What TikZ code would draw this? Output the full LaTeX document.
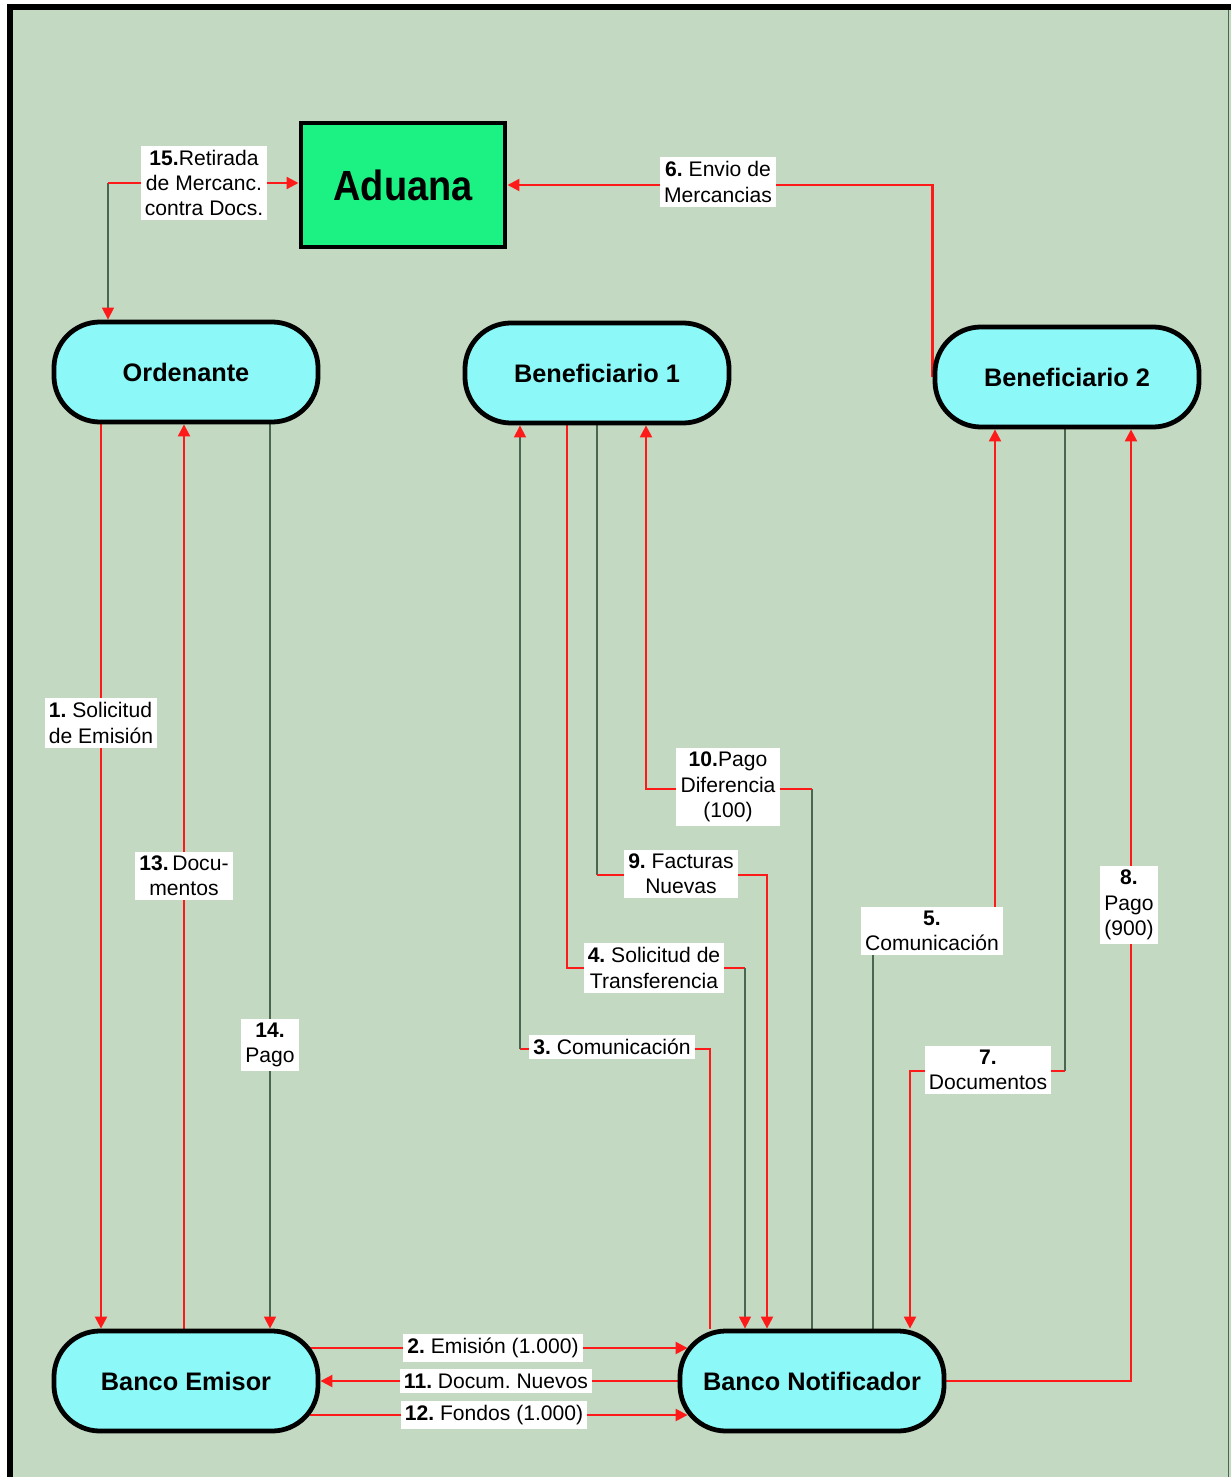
\documentclass[tikz,border=0pt]{standalone}
\usepackage{fontspec}
\setmainfont{Liberation Sans}
\usetikzlibrary{arrows.meta,calc}
\definecolor{FondoVerde}{HTML}{C3D9C1}
\definecolor{CajaCian}{HTML}{8CF8F8}
\definecolor{CajaVerde}{HTML}{1CF283}
\definecolor{LineaRoja}{HTML}{FF1A1A}
\definecolor{LineaOscura}{HTML}{4A6650}
\pgfdeclarelayer{fondo}
\pgfdeclarelayer{lineas}
\pgfsetlayers{fondo,lineas,main}
\frenchspacing
\begin{document}
\begin{tikzpicture}[x=0.025cm,y=-0.025cm,
    parte/.style={draw=black,line width=3.4pt,fill=CajaCian,rounded corners=1.15cm,minimum width=6.6cm,minimum height=2.5cm,font=\fontsize{18}{20}\selectfont\bfseries},
    aduanabox/.style={draw=black,line width=3.5pt,fill=CajaVerde,minimum width=5.1cm,minimum height=3.1cm,font=\fontsize{30}{32}\selectfont\bfseries},
    etiqueta/.style={fill=white,inner sep=3pt,align=center,font=\fontsize{15}{18}\selectfont},
    roja/.style={draw=LineaRoja,line width=1.6pt},
    oscura/.style={draw=LineaOscura,line width=0.9pt},
    punta/.style={-{Triangle[length=0.3cm,width=0.3cm,color=LineaRoja]}}]
                \useasboundingbox (0,0) rectangle (1231,1477);

                \node[aduanabox] (Aduana) at (403,185) {\scalebox{0.9}[1]{Aduana}};
                \node[parte] (Ordenante) at (186,372) {Ordenante};
                \node[parte] (BenefUno) at (597,373) {Beneficiario 1};
                \node[parte] (BenefDos) at (1067,377) {Beneficiario 2};
                \node[parte] (BancoEmisor) at (186,1381) {Banco Emisor};
                \node[parte] (BancoNotif) at (812,1381) {Banco Notificador};

                \node[etiqueta] (Et15) at (204,183) {\textbf{15.}Retirada\\de Mercanc.\\contra Docs.};
                \node[etiqueta] (Et6) at (718,182) {\textbf{6.} Envio de\\Mercancias};
                \node[etiqueta,align=left] (Et1) at (101,723) {\textbf{1.} Solicitud\\de Emisión};
                \node[etiqueta] (Et13) at (184,876) {\textbf{13.}\,Docu-\\mentos};
                \node[etiqueta] (Et14) at (270,1045) {\textbf{14.}\\Pago};
                \node[etiqueta] (Et10) at (728,787) {\textbf{10.}Pago\\Diferencia\\(100)};
                \node[etiqueta] (Et9) at (681,874) {\textbf{9.} Facturas\\Nuevas};
                \node[etiqueta] (Et4) at (654,968) {\textbf{4.} Solicitud de\\Transferencia};
                \node[etiqueta] (Et3) at (612,1047) {\textbf{3.} Comunicación};
                \node[etiqueta] (Et5) at (932,931) {\textbf{5.}\\Comunicación};
                \node[etiqueta] (Et7) at (988,1070) {\textbf{7.}\\Documentos};
                \node[etiqueta] (Et8) at (1129,905) {\textbf{8.}\\Pago\\(900)};
                \node[etiqueta] (Et2) at (493,1348) {\textbf{2.} Emisión (1.000)};
                \node[etiqueta] (Et11) at (496,1381) {\textbf{11.} Docum. Nuevos};
                \node[etiqueta] (Et12) at (494,1415) {\textbf{12.} Fondos (1.000)};

                \coordinate (Esq15) at (108,183);
                \coordinate (Esq3d) at (710,1049);
                \coordinate (Esq3i) at (520,1049);
                \coordinate (Esq4i) at (567,968);
                \coordinate (Esq4d) at (745,968);
                \coordinate (Esq9i) at (597,875);
                \coordinate (Esq9d) at (767,875);
                \coordinate (Esq10d) at (812,789);
                \coordinate (Esq10i) at (646,789);
                \coordinate (Esq5i) at (873,931);
                \coordinate (Esq5d) at (995,931);
                \coordinate (Esq7d) at (1065,1071);
                \coordinate (Esq7i) at (910,1071);
                \coordinate (Esq8) at (1131,1381);
                \coordinate (Sal2) at ($(BancoEmisor.east |- Et2)+(-10,0)$);
                \coordinate (Lle2) at ($(BancoNotif.west |- Et2)+(10,0)$);
                \coordinate (Sal12) at ($(BancoEmisor.east |- Et12)+(-10,0)$);
                \coordinate (Lle12) at ($(BancoNotif.west |- Et12)+(10,0)$);

                \begin{pgfonlayer}{fondo}
                \fill[white] (0,0) rectangle (1231,1477);
                \fill[FondoVerde] (10,7) rectangle (1231,1477);
                \draw[line width=0.15cm] (10,1477) -- (10,7) -- (1231,7);
                \draw[LineaOscura,line width=0.6pt] (1228,10) -- (1228,1477);
                \end{pgfonlayer}

                \begin{pgfonlayer}{lineas}
                \draw[oscura,punta] (Esq15) -- (Ordenante.north -| Esq15);
                \draw[roja,punta] (Esq15) -- (Esq15 -| Aduana.west);
                \draw[roja,punta] (BenefDos.west) |- (Aduana.east);
                \draw[roja,punta] (Ordenante.south -| Et1) -- (BancoEmisor.north -| Et1);
                \draw[roja,punta] (BancoEmisor.north -| Et13) -- (Ordenante.south -| Et13);
                \draw[oscura,punta] (Ordenante.south -| Et14) -- (BancoEmisor.north -| Et14);
                \draw[roja] (BancoNotif.north -| Esq3d) -- (Esq3d) -- (Esq3i);
                \draw[oscura,punta] (Esq3i) -- (BenefUno.south -| Esq3i);
                \draw[roja] (BenefUno.south -| Esq4i) -- (Esq4i) -- (Esq4d);
                \draw[oscura,punta] (Esq4d) -- (BancoNotif.north -| Esq4d);
                \draw[oscura] (BenefUno.south -| Esq9i) -- (Esq9i);
                \draw[roja,punta] (Esq9i) -- (Esq9d) -- (BancoNotif.north -| Esq9d);
                \draw[oscura] (BancoNotif.north -| Esq10d) -- (Esq10d);
                \draw[roja,punta] (Esq10d) -- (Esq10i) -- (BenefUno.south -| Esq10i);
                \draw[oscura] (BancoNotif.north -| Esq5i) -- (Esq5i) -- (Esq5d);
                \draw[roja,punta] (Esq5d) -- (BenefDos.south -| Esq5d);
                \draw[oscura] (BenefDos.south -| Esq7d) -- (Esq7d);
                \draw[roja,punta] (Esq7d) -- (Esq7i) -- (BancoNotif.north -| Esq7i);
                \draw[roja,punta] (BancoNotif.east) -- (Esq8) -- (BenefDos.south -| Esq8);
                \draw[roja,punta] (Sal2) -- (Lle2);
                \draw[roja,punta] (BancoNotif.west) -- (BancoEmisor.east);
                \draw[roja,punta] (Sal12) -- (Lle12);
                \end{pgfonlayer}
            \end{tikzpicture}
\end{document}
